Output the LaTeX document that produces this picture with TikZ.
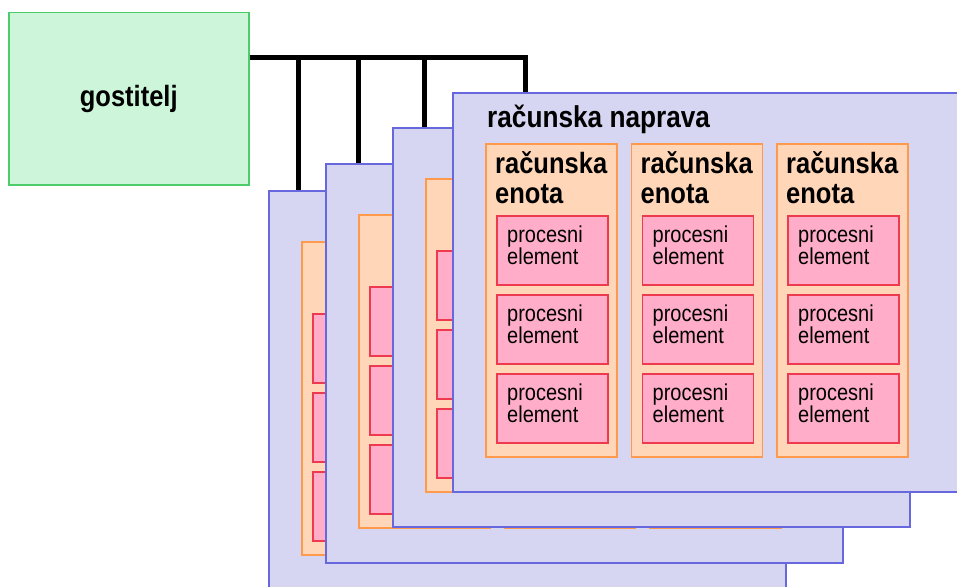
\documentclass[tikz,border=0pt]{standalone}
\usepackage{fontspec}
\setmainfont{Liberation Sans}
\usepackage{graphicx}

\definecolor{hostfill}{HTML}{CCF5D9}
\definecolor{hostline}{HTML}{4DCC6B}
\definecolor{devfill}{HTML}{D6D6F2}
\definecolor{devline}{HTML}{6868DE}
\definecolor{cufill}{HTML}{FFD6B8}
\definecolor{culine}{HTML}{FF9A4D}
\definecolor{pefill}{HTML}{FFADC8}
\definecolor{peline}{HTML}{EE3A4E}

% slightly tall lettering
\newcommand{\tallbold}[2][25.5]{\scalebox{1}[1.15]{\fontsize{#1}{29}\selectfont\bfseries #2}}
\newcommand{\tallplain}[1]{\scalebox{1}[1.15]{\fontsize{20}{22}\selectfont #1}}

\tikzset{
  box/.style={rectangle, anchor=north west, inner sep=0pt, line width=1.5pt},
  hostbox/.style={box, draw=hostline, fill=hostfill, minimum width=240pt, minimum height=172pt},
  devbox/.style={box, draw=devline, fill=devfill, minimum width=517pt, minimum height=399pt},
  unitbox/.style={box, draw=culine, fill=cufill, minimum width=131pt, minimum height=313pt},
  pebox/.style={box, draw=peline, fill=pefill, minimum width=111pt, minimum height=69pt},
  lbl/.style={anchor=base west, inner sep=0pt},
  bus/.style={line width=5pt, black},
}

\begin{document}
\begin{tikzpicture}[x=1pt, y=-1pt]
  \useasboundingbox (0,0) rectangle (957,586);
  \clip (0,0) rectangle (957,586);

  % host
  \node[hostbox] (host) at (8,12) {};
  \node (hostlbl) at (host.center) {\tallbold{gostitelj}};

  % stacked compute devices, back to front
  \foreach \d/\X/\Y in {1/268/190, 2/325/163, 3/392/127, 4/452/92} {
    \node[devbox] (dev\d) at (\X,\Y) {};
    \foreach \k in {1,2,3} {
      \pgfmathsetmacro{\cx}{\X+33+145.5*(\k-1)}
      \node[unitbox] (cu\d\k) at (\cx,\Y+51) {};
      \foreach \j in {1,2,3} {
        \pgfmathsetmacro{\py}{\Y+123+79*(\j-1)}
        \node[pebox] (pe\d\k\j) at (\cx+11,\py) {};
      }
    }
  }

  % labels on the front device
  \node[lbl] (devlbl) at ([shift={(35,35)}]dev4.north west) {\tallbold[26.2]{računska naprava}};
  \foreach \k in {1,2,3} {
    \node[lbl] (cua\k) at ([shift={(10,30)}]cu4\k.north west) {\tallbold{računska}};
    \node[lbl] (cub\k) at ([shift={(10,60)}]cu4\k.north west) {\tallbold{enota}};
    \foreach \j in {1,2,3} {
      \node[lbl] (pea\k\j) at ([shift={(11,27)}]pe4\k\j.north west) {\tallplain{procesni}};
      \node[lbl] (peb\k\j) at ([shift={(11,49)}]pe4\k\j.north west) {\tallplain{element}};
    }
  }

  % bus from the host to every device
  \coordinate (tap1) at (298,57.5);
  \coordinate (tap2) at (358,57.5);
  \coordinate (tap3) at (424,57.5);
  \coordinate (tap4) at (525,57.5);
  \draw[bus] (host.east |- tap4) -- (tap4) -- (dev4.north -| tap4);
  \draw[bus] (tap1) -- (dev1.north -| tap1);
  \draw[bus] (tap2) -- (dev2.north -| tap2);
  \draw[bus] (tap3) -- (dev3.north -| tap3);
\end{tikzpicture}
\end{document}
